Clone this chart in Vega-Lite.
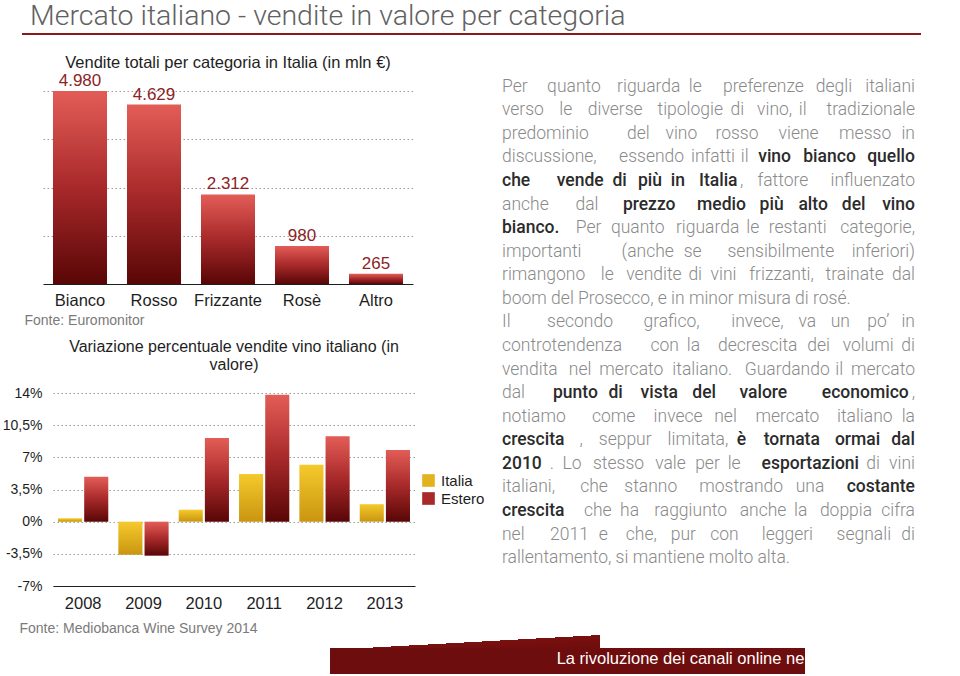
{
  "$schema": "https://vega.github.io/schema/vega-lite/v6.json",
  "padding": 0,
  "background": "white",
  "config": {
    "view": {"stroke": null},
    "font": "Liberation Sans",
    "locale": {"number": {"decimal": ",", "thousands": ".", "grouping": [3], "currency": ["", " €"]}}
  },
  "datasets": {
    "testo": [
      {"l":1,"w":1,"t":"Per","n":1.556},{"l":1,"w":2,"t":"quanto","n":3.336},{"l":1,"w":3,"t":"riguarda","n":3.946},{"l":1,"w":4,"t":"le","n":1.056},{"l":1,"w":5,"t":"preferenze","n":5.058},{"l":1,"w":6,"t":"degli","n":2.39},{"l":1,"w":7,"t":"italiani","n":3.112},
      {"l":2,"w":1,"t":"verso","n":2.445},{"l":2,"w":2,"t":"le","n":1.056},{"l":2,"w":3,"t":"diverse","n":3.501},{"l":2,"w":4,"t":"tipologie","n":4.002},{"l":2,"w":5,"t":"di","n":1.056},{"l":2,"w":6,"t":"vino,","n":2.39},{"l":2,"w":7,"t":"il","n":0.722},{"l":2,"w":8,"t":"tradizionale","n":5.391},
      {"l":3,"w":1,"t":"predominio","n":4.946},{"l":3,"w":2,"t":"del","n":1.612},{"l":3,"w":3,"t":"vino","n":2.112},{"l":3,"w":4,"t":"rosso","n":2.723},{"l":3,"w":5,"t":"viene","n":2.668},{"l":3,"w":6,"t":"messo","n":3.223},{"l":3,"w":7,"t":"in","n":1.056},
      {"l":4,"w":1,"t":"discussione,","n":5.502},{"l":4,"w":2,"t":"essendo","n":4.058},{"l":4,"w":3,"t":"infatti","n":2.668},{"l":4,"w":4,"t":"il","n":0.722},{"l":4,"w":5,"t":"vino","n":2.222,"b":1},{"l":4,"w":6,"t":"bianco","n":3.401,"b":1},{"l":4,"w":7,"t":"quello","n":3.106,"b":1},
      {"l":5,"w":1,"t":"che","n":1.709,"b":1},{"l":5,"w":2,"t":"vende","n":3.165,"b":1},{"l":5,"w":3,"t":"di","n":1.103,"b":1},{"l":5,"w":4,"t":"più","n":1.692,"b":1},{"l":5,"w":5,"t":"in","n":1.103,"b":1},{"l":5,"w":6,"t":"Italia","n":2.517,"b":1},{"l":5,"w":7,"t":",","n":0.278},{"l":5,"w":8,"t":"fattore","n":3.113},{"l":5,"w":9,"t":"influenzato","n":5.114},
      {"l":6,"w":1,"t":"anche","n":2.724},{"l":6,"w":2,"t":"dal","n":1.612},{"l":6,"w":3,"t":"prezzo","n":3.459,"b":1},{"l":6,"w":4,"t":"medio","n":3.164,"b":1},{"l":6,"w":5,"t":"più","n":1.692,"b":1},{"l":6,"w":6,"t":"alto","n":1.987,"b":1},{"l":6,"w":7,"t":"del","n":1.692,"b":1},{"l":6,"w":8,"t":"vino","n":2.222,"b":1},
      {"l":7,"w":1,"t":"bianco.","n":3.417,"b":1},{"l":7,"w":2,"t":"Per","n":1.834},{"l":7,"w":3,"t":"quanto","n":3.336},{"l":7,"w":4,"t":"riguarda","n":3.946},{"l":7,"w":5,"t":"le","n":1.056},{"l":7,"w":6,"t":"restanti","n":3.557},{"l":7,"w":7,"t":"categorie,","n":4.669},
      {"l":8,"w":1,"t":"importanti","n":4.39},{"l":8,"w":2,"t":"(anche","n":3.891},{"l":8,"w":3,"t":"se","n":1.334},{"l":8,"w":4,"t":"sensibilmente","n":6.391},{"l":8,"w":5,"t":"inferiori)","n":3.889},
      {"l":9,"w":1,"t":"rimangono","n":4.724},{"l":9,"w":2,"t":"le","n":1.056},{"l":9,"w":3,"t":"vendite","n":3.502},{"l":9,"w":4,"t":"di","n":1.056},{"l":9,"w":5,"t":"vini","n":1.778},{"l":9,"w":6,"t":"frizzanti,","n":4.001},{"l":9,"w":7,"t":"trainate","n":3.613},{"l":9,"w":8,"t":"dal","n":1.612},
      {"l":10,"w":1,"t":"boom del Prosecco, e in minor misura di rosé.","n":20.34},
      {"l":11,"w":1,"t":"Il","n":0.5},{"l":11,"w":2,"t":"secondo","n":4.058},{"l":11,"w":3,"t":"grafico,","n":3.557},{"l":11,"w":4,"t":"invece,","n":3.446},{"l":11,"w":5,"t":"va","n":1.334},{"l":11,"w":6,"t":"un","n":1.39},{"l":11,"w":7,"t":"po’","n":1.612},{"l":11,"w":8,"t":"in","n":1.056},
      {"l":12,"w":1,"t":"controtendenza","n":6.893},{"l":12,"w":2,"t":"con","n":1.89},{"l":12,"w":3,"t":"la","n":1.056},{"l":12,"w":4,"t":"decrescita","n":4.835},{"l":12,"w":5,"t":"dei","n":1.612},{"l":12,"w":6,"t":"volumi","n":3.167},{"l":12,"w":7,"t":"di","n":1.056},
      {"l":13,"w":1,"t":"vendita","n":3.224},{"l":13,"w":2,"t":"nel","n":1.612},{"l":13,"w":3,"t":"mercato","n":3.89},{"l":13,"w":4,"t":"italiano.","n":3.724},{"l":13,"w":5,"t":"Guardando","n":5.281},{"l":13,"w":6,"t":"il","n":0.722},{"l":13,"w":7,"t":"mercato","n":3.89},
      {"l":14,"w":1,"t":"dal","n":1.334},{"l":14,"w":2,"t":"punto","n":2.93,"b":1},{"l":14,"w":3,"t":"di","n":1.103,"b":1},{"l":14,"w":4,"t":"vista","n":2.457,"b":1},{"l":14,"w":5,"t":"del","n":1.692,"b":1},{"l":14,"w":6,"t":"valore","n":3.164,"b":1},{"l":14,"w":7,"t":"economico","n":5.403,"b":1},{"l":14,"w":8,"t":",","n":0.278},
      {"l":15,"w":1,"t":"notiamo","n":3.557},{"l":15,"w":2,"t":"come","n":2.723},{"l":15,"w":3,"t":"invece","n":3.168},{"l":15,"w":4,"t":"nel","n":1.612},{"l":15,"w":5,"t":"mercato","n":3.89},{"l":15,"w":6,"t":"italiano","n":3.446},{"l":15,"w":7,"t":"la","n":1.056},
      {"l":16,"w":1,"t":"crescita","n":3.652,"b":1},{"l":16,"w":2,"t":",","n":0.278},{"l":16,"w":3,"t":"seppur","n":3.335},{"l":16,"w":4,"t":"limitata,","n":3.723},{"l":16,"w":5,"t":"è","n":0.867,"b":1},{"l":16,"w":6,"t":"tornata","n":3.578,"b":1},{"l":16,"w":7,"t":"ormai","n":2.928,"b":1},{"l":16,"w":8,"t":"dal","n":1.692,"b":1},
      {"l":17,"w":1,"t":"2010","n":2.357,"b":1},{"l":17,"w":2,"t":".","n":0.278},{"l":17,"w":3,"t":"Lo","n":1.39},{"l":17,"w":4,"t":"stesso","n":3.168},{"l":17,"w":5,"t":"vale","n":2.112},{"l":17,"w":6,"t":"per","n":1.723},{"l":17,"w":7,"t":"le","n":1.056},{"l":17,"w":8,"t":"esportazioni","n":5.992,"b":1},{"l":17,"w":9,"t":"di","n":1.056},{"l":17,"w":10,"t":"vini","n":1.778},
      {"l":18,"w":1,"t":"italiani,","n":3.112},{"l":18,"w":2,"t":"che","n":1.89},{"l":18,"w":3,"t":"stanno","n":3.28},{"l":18,"w":4,"t":"mostrando","n":5.002},{"l":18,"w":5,"t":"una","n":1.946},{"l":18,"w":6,"t":"costante","n":4.285,"b":1},
      {"l":19,"w":1,"t":"crescita","n":3.652,"b":1},{"l":19,"w":2,"t":"che","n":1.89},{"l":19,"w":3,"t":"ha","n":1.39},{"l":19,"w":4,"t":"raggiunto","n":4.447},{"l":19,"w":5,"t":"anche","n":3.002},{"l":19,"w":6,"t":"la","n":1.056},{"l":19,"w":7,"t":"doppia","n":3.28},{"l":19,"w":8,"t":"cifra","n":2.167},
      {"l":20,"w":1,"t":"nel","n":1.334},{"l":20,"w":2,"t":"2011","n":2.502},{"l":20,"w":3,"t":"e","n":0.834},{"l":20,"w":4,"t":"che,","n":2.168},{"l":20,"w":5,"t":"pur","n":1.723},{"l":20,"w":6,"t":"con","n":1.89},{"l":20,"w":7,"t":"leggeri","n":3.279},{"l":20,"w":8,"t":"segnali","n":3.446},{"l":20,"w":9,"t":"di","n":1.056},
      {"l":21,"w":1,"t":"rallentamento, si mantiene molto alta.","n":16.58}
    ]
  },
  "spacing": 0,
  "vconcat": [
    {
      "columns": 2, "spacing": 0, "bounds": "flush", "align": "each",
      "concat": [
        {"width": 22, "height": 33, "data": {"values": [{}]}, "mark": {"type": "point", "opacity": 0, "size": 0, "strokeWidth": 0, "filled": true}},
        {"width": 1, "height": 1, "data": {"values": [{}]}, "mark": {"type": "point", "opacity": 0, "size": 0, "strokeWidth": 0, "filled": true}},
        {"width": 22, "height": 2, "data": {"values": [{}]}, "mark": {"type": "point", "opacity": 0, "size": 0, "strokeWidth": 0, "filled": true}},
        {
          "width": 899, "height": 2,
          "data": {"values": [{}]},
          "mark": {"type": "point", "opacity": 0, "size": 0, "strokeWidth": 0, "filled": true},
          "view": {"fill": "#8a1b1b"},
          "title": {"text": "Mercato italiano - vendite in valore per categoria", "anchor": "start", "dx": 8, "offset": 3, "font": "Roboto", "fontWeight": 300, "fontSize": 28.5, "color": "#616161"}
        }
      ]
    },
    {
      "columns": 4, "spacing": 0, "bounds": "flush", "align": "each",
      "concat": [
        {"width": 43, "height": 56, "data": {"values": [{}]}, "mark": {"type": "point", "opacity": 0, "size": 0, "strokeWidth": 0, "filled": true}},
        {"width": 1, "height": 1, "data": {"values": [{}]}, "mark": {"type": "point", "opacity": 0, "size": 0, "strokeWidth": 0, "filled": true}},
        {"width": 1, "height": 1, "data": {"values": [{}]}, "mark": {"type": "point", "opacity": 0, "size": 0, "strokeWidth": 0, "filled": true}},
        {"width": 1, "height": 1, "data": {"values": [{}]}, "mark": {"type": "point", "opacity": 0, "size": 0, "strokeWidth": 0, "filled": true}},
        {"width": 43, "height": 1, "data": {"values": [{}]}, "mark": {"type": "point", "opacity": 0, "size": 0, "strokeWidth": 0, "filled": true}},
        {
          "width": 370, "height": 193,
          "data": {"values": [
            {"categoria": "Bianco", "vendite": 4980},
            {"categoria": "Rosso", "vendite": 4629},
            {"categoria": "Frizzante", "vendite": 2312},
            {"categoria": "Rosè", "vendite": 980},
            {"categoria": "Altro", "vendite": 265}
          ]},
          "title": {"text": "Vendite totali per categoria in Italia (in mln €)", "fontSize": 16.5, "fontWeight": "normal", "color": "#1e1e1e", "offset": 1},
          "encoding": {
            "x": {"field": "categoria", "type": "nominal", "sort": null,
              "scale": {"paddingInner": 0.27, "paddingOuter": 0.135},
              "axis": {"title": "Fonte: Euromonitor", "labelAngle": 0, "labelFontSize": 16.5, "labelColor": "#1e1e1e", "labelPadding": 8, "ticks": false, "tickSize": 0, "domainColor": "#1e1e1e", "domainWidth": 1.2,
                "titleFontSize": 14, "titleFontWeight": "normal", "titleColor": "#7a7a7a", "titleX": -19, "titleY": 36, "titleAlign": "left", "titleBaseline": "middle"}},
            "y": {"field": "vendite", "type": "quantitative",
              "scale": {"domain": [0, 4980], "nice": false},
              "axis": {"title": null, "labels": false, "ticks": false, "domain": false, "values": [1245, 2490, 3735, 4980], "grid": true, "gridDash": [1.5, 2.5], "gridColor": "#9c9c9c", "gridWidth": 1}}
          },
          "layer": [
            {"mark": {"type": "bar", "color": {"gradient": "linear", "x1": 0, "y1": 0, "x2": 0, "y2": 1, "stops": [{"offset": 0, "color": "#e35d57"}, {"offset": 0.5, "color": "#a8292a"}, {"offset": 1, "color": "#590606"}]}}},
            {"mark": {"type": "text", "baseline": "bottom", "dy": -1, "fontSize": 17, "color": "#8c2424"},
             "encoding": {"text": {"field": "vendite", "type": "quantitative", "format": ",d"}}}
          ]
        },
        {"width": 89, "height": 1, "data": {"values": [{}]}, "mark": {"type": "point", "opacity": 0, "size": 0, "strokeWidth": 0, "filled": true}},
        {
          "width": 413, "height": 243,
          "data": {"name": "testo"},
          "transform": [
            {"filter": "datum.l <= 11"},
            {"stack": "n", "groupby": ["l"], "sort": [{"field": "w", "order": "ascending"}], "offset": "normalize", "as": ["x0", "x1"]}
          ],
          "encoding": {
            "y": {"field": "l", "type": "quantitative", "scale": {"domain": [1.182, 11.492], "reverse": true, "nice": false, "zero": false}, "axis": null},
            "text": {"field": "t", "type": "nominal"}
          },
          "layer": [
            {"transform": [{"filter": "datum.w == 1 && datum.b != 1"}],
             "mark": {"type": "text", "align": "left", "baseline": "middle", "font": "Roboto", "fontSize": 17.5, "fontWeight": 300, "color": "#8a8a8a"},
             "encoding": {"x": {"field": "x0", "type": "quantitative", "scale": {"domain": [0, 1], "nice": false, "zero": false}, "axis": null}}},
            {"transform": [{"filter": "datum.w == 1 && datum.b == 1"}],
             "mark": {"type": "text", "align": "left", "baseline": "middle", "font": "Roboto", "fontSize": 17.5, "fontWeight": 500, "color": "#2b2b2b"},
             "encoding": {"x": {"field": "x0", "type": "quantitative", "scale": {"domain": [0, 1], "nice": false, "zero": false}, "axis": null}}},
            {"transform": [{"filter": "datum.w > 1 && datum.b != 1"}],
             "mark": {"type": "text", "align": "right", "baseline": "middle", "font": "Roboto", "fontSize": 17.5, "fontWeight": 300, "color": "#8a8a8a"},
             "encoding": {"x": {"field": "x1", "type": "quantitative", "scale": {"domain": [0, 1], "nice": false, "zero": false}, "axis": null}}},
            {"transform": [{"filter": "datum.w > 1 && datum.b == 1"}],
             "mark": {"type": "text", "align": "right", "baseline": "middle", "font": "Roboto", "fontSize": 17.5, "fontWeight": 500, "color": "#2b2b2b"},
             "encoding": {"x": {"field": "x1", "type": "quantitative", "scale": {"domain": [0, 1], "nice": false, "zero": false}, "axis": null}}}
          ]
        }
      ]
    },
    {
      "columns": 4, "spacing": 0, "bounds": "flush", "align": "each",
      "concat": [
        {"width": 53, "height": 59, "data": {"values": [{}]}, "mark": {"type": "point", "opacity": 0, "size": 0, "strokeWidth": 0, "filled": true}},
        {"width": 1, "height": 1, "data": {"values": [{}]}, "mark": {"type": "point", "opacity": 0, "size": 0, "strokeWidth": 0, "filled": true}},
        {"width": 1, "height": 1, "data": {"values": [{}]}, "mark": {"type": "point", "opacity": 0, "size": 0, "strokeWidth": 0, "filled": true}},
        {"width": 1, "height": 1, "data": {"values": [{}]}, "mark": {"type": "point", "opacity": 0, "size": 0, "strokeWidth": 0, "filled": true}},
        {"width": 53, "height": 1, "data": {"values": [{}]}, "mark": {"type": "point", "opacity": 0, "size": 0, "strokeWidth": 0, "filled": true}},
        {
          "width": 362, "height": 193,
          "data": {"values": [
            {"anno": "2008", "mercato": "Italia", "variazione": 0.36},
            {"anno": "2008", "mercato": "Estero", "variazione": 4.9},
            {"anno": "2009", "mercato": "Italia", "variazione": -3.6},
            {"anno": "2009", "mercato": "Estero", "variazione": -3.7},
            {"anno": "2010", "mercato": "Italia", "variazione": 1.3},
            {"anno": "2010", "mercato": "Estero", "variazione": 9.1},
            {"anno": "2011", "mercato": "Italia", "variazione": 5.2},
            {"anno": "2011", "mercato": "Estero", "variazione": 13.8},
            {"anno": "2012", "mercato": "Italia", "variazione": 6.2},
            {"anno": "2012", "mercato": "Estero", "variazione": 9.3},
            {"anno": "2013", "mercato": "Italia", "variazione": 1.9},
            {"anno": "2013", "mercato": "Estero", "variazione": 7.8}
          ]},
          "title": {"text": ["Variazione percentuale vendite vino italiano (in", "valore)"], "fontSize": 16, "fontWeight": "normal", "color": "#1e1e1e", "offset": 13, "lineHeight": 18},
          "encoding": {
            "x": {"field": "anno", "type": "nominal",
              "scale": {"paddingInner": 0.167, "paddingOuter": 0.083},
              "axis": {"title": "Fonte: Mediobanca Wine Survey 2014", "labelAngle": 0, "labelFontSize": 16.5, "labelColor": "#1e1e1e", "labelPadding": 9, "ticks": false, "tickSize": 0, "domainColor": "#1e1e1e", "domainWidth": 1.2,
                "titleFontSize": 14, "titleFontWeight": "normal", "titleColor": "#7a7a7a", "titleX": -34, "titleY": 42, "titleAlign": "left", "titleBaseline": "middle"}},
            "xOffset": {"field": "mercato", "type": "nominal", "sort": ["Italia", "Estero"], "scale": {"paddingInner": 0.08}},
            "y": {"field": "variazione", "type": "quantitative",
              "scale": {"domain": [-7, 14], "nice": false, "zero": false},
              "axis": {"title": null, "values": [-7, -3.5, 0, 3.5, 7, 10.5, 14], "labelExpr": "replace(toString(datum.value), '.', ',') + '%'", "labelFontSize": 14, "labelColor": "#1e1e1e", "labelPadding": 11, "ticks": false, "tickSize": 0, "domain": false, "grid": true, "gridDash": [1.5, 2.5], "gridColor": "#9c9c9c", "gridWidth": 1}}
          },
          "layer": [
            {
              "mark": {"type": "bar"},
              "encoding": {
                "fill": {"condition": {"test": "datum.mercato === 'Italia'", "value": {"gradient": "linear", "x1": 0, "y1": 0, "x2": 0, "y2": 1, "stops": [{"offset": 0, "color": "#f5ca2c"}, {"offset": 1, "color": "#c99510"}]}},
                  "value": {"gradient": "linear", "x1": 0, "y1": 0, "x2": 0, "y2": 1, "stops": [{"offset": 0, "color": "#e35d57"}, {"offset": 0.5, "color": "#a8292a"}, {"offset": 1, "color": "#590606"}]}}
              }
            },
            {
              "mark": {"type": "bar", "opacity": 0},
              "encoding": {
                "color": {"field": "mercato", "type": "nominal", "sort": ["Italia", "Estero"],
                  "scale": {"domain": ["Italia", "Estero"], "range": ["#e2b21f", "#a8292a"]},
                  "legend": {"title": null, "orient": "none", "legendX": 421, "legendY": 473, "symbolType": "square", "symbolSize": 160, "symbolStrokeWidth": 0, "symbolOpacity": 1, "labelFontSize": 15, "labelColor": "#1e1e1e", "labelOffset": 5, "rowPadding": 2, "padding": 0,
                    "encode": {"symbols": {"update": {"opacity": {"value": 1}, "fill": [
                      {"test": "datum.value === 'Italia'", "value": {"gradient": "linear", "x1": 0, "y1": 0, "x2": 0, "y2": 1, "stops": [{"offset": 0, "color": "#f5ca2c"}, {"offset": 1, "color": "#c99510"}]}},
                      {"value": {"gradient": "linear", "x1": 0, "y1": 0, "x2": 0, "y2": 1, "stops": [{"offset": 0, "color": "#e35d57"}, {"offset": 0.5, "color": "#a8292a"}, {"offset": 1, "color": "#590606"}]}}
                    ]}}}}}
              }
            }
          ]
        },
        {"width": 87, "height": 1, "data": {"values": [{}]}, "mark": {"type": "point", "opacity": 0, "size": 0, "strokeWidth": 0, "filled": true}},
        {
          "width": 413, "height": 193,
          "data": {"name": "testo"},
          "transform": [
            {"filter": "datum.l >= 12"},
            {"stack": "n", "groupby": ["l"], "sort": [{"field": "w", "order": "ascending"}], "offset": "normalize", "as": ["x0", "x1"]}
          ],
          "encoding": {
            "y": {"field": "l", "type": "quantitative", "scale": {"domain": [13.994, 22.182], "reverse": true, "nice": false, "zero": false}, "axis": null},
            "text": {"field": "t", "type": "nominal"}
          },
          "layer": [
            {"transform": [{"filter": "datum.w == 1 && datum.b != 1"}],
             "mark": {"type": "text", "align": "left", "baseline": "middle", "font": "Roboto", "fontSize": 17.5, "fontWeight": 300, "color": "#8a8a8a"},
             "encoding": {"x": {"field": "x0", "type": "quantitative", "scale": {"domain": [0, 1], "nice": false, "zero": false}, "axis": null}}},
            {"transform": [{"filter": "datum.w == 1 && datum.b == 1"}],
             "mark": {"type": "text", "align": "left", "baseline": "middle", "font": "Roboto", "fontSize": 17.5, "fontWeight": 500, "color": "#2b2b2b"},
             "encoding": {"x": {"field": "x0", "type": "quantitative", "scale": {"domain": [0, 1], "nice": false, "zero": false}, "axis": null}}},
            {"transform": [{"filter": "datum.w > 1 && datum.b != 1"}],
             "mark": {"type": "text", "align": "right", "baseline": "middle", "font": "Roboto", "fontSize": 17.5, "fontWeight": 300, "color": "#8a8a8a"},
             "encoding": {"x": {"field": "x1", "type": "quantitative", "scale": {"domain": [0, 1], "nice": false, "zero": false}, "axis": null}}},
            {"transform": [{"filter": "datum.w > 1 && datum.b == 1"}],
             "mark": {"type": "text", "align": "right", "baseline": "middle", "font": "Roboto", "fontSize": 17.5, "fontWeight": 500, "color": "#2b2b2b"},
             "encoding": {"x": {"field": "x1", "type": "quantitative", "scale": {"domain": [0, 1], "nice": false, "zero": false}, "axis": null}}}
          ]
        },
        {"width": 53, "height": 47, "data": {"values": [{}]}, "mark": {"type": "point", "opacity": 0, "size": 0, "strokeWidth": 0, "filled": true}},
        {"width": 1, "height": 1, "data": {"values": [{}]}, "mark": {"type": "point", "opacity": 0, "size": 0, "strokeWidth": 0, "filled": true}},
        {"width": 1, "height": 1, "data": {"values": [{}]}, "mark": {"type": "point", "opacity": 0, "size": 0, "strokeWidth": 0, "filled": true}},
        {"width": 1, "height": 1, "data": {"values": [{}]}, "mark": {"type": "point", "opacity": 0, "size": 0, "strokeWidth": 0, "filled": true}}
      ]
    },
    {
      "spacing": 0, "bounds": "flush",
      "hconcat": [
        {"width": 364, "height": 13, "data": {"values": [{}]}, "mark": {"type": "point", "opacity": 0, "size": 0, "strokeWidth": 0, "filled": true}},
        {"width": 236, "height": 13, "data": {"values": [{}]}, "mark": {"type": "point", "opacity": 0, "size": 0, "strokeWidth": 0, "filled": true},
         "view": {"fill": {"gradient": "linear", "x1": 0, "y1": 0, "x2": 1, "y2": 1, "stops": [{"offset": 0, "color": "#ffffff"}, {"offset": 0.5, "color": "#ffffff"}, {"offset": 0.5, "color": "#7a1010"}, {"offset": 1, "color": "#6e0d0d"}]}}}
      ]
    },
    {
      "spacing": 0, "bounds": "flush",
      "hconcat": [
        {"width": 330, "height": 26, "data": {"values": [{}]}, "mark": {"type": "point", "opacity": 0, "size": 0, "strokeWidth": 0, "filled": true}},
        {"width": 226, "height": 26, "data": {"values": [{}]}, "mark": {"type": "point", "opacity": 0, "size": 0, "strokeWidth": 0, "filled": true}, "view": {"fill": "#6e0d0d"}},
        {"width": 249, "height": 26, "data": {"values": [{"t": "La rivoluzione dei canali online ne"}]},
         "mark": {"type": "text", "color": "white", "fontSize": 16.5, "baseline": "middle", "dy": -2},
         "encoding": {"text": {"field": "t", "type": "nominal"}},
         "view": {"fill": "#6e0d0d"}},
        {"width": 150, "height": 26, "data": {"values": [{}]}, "mark": {"type": "point", "opacity": 0, "size": 0, "strokeWidth": 0, "filled": true}}
      ]
    }
  ]
}
